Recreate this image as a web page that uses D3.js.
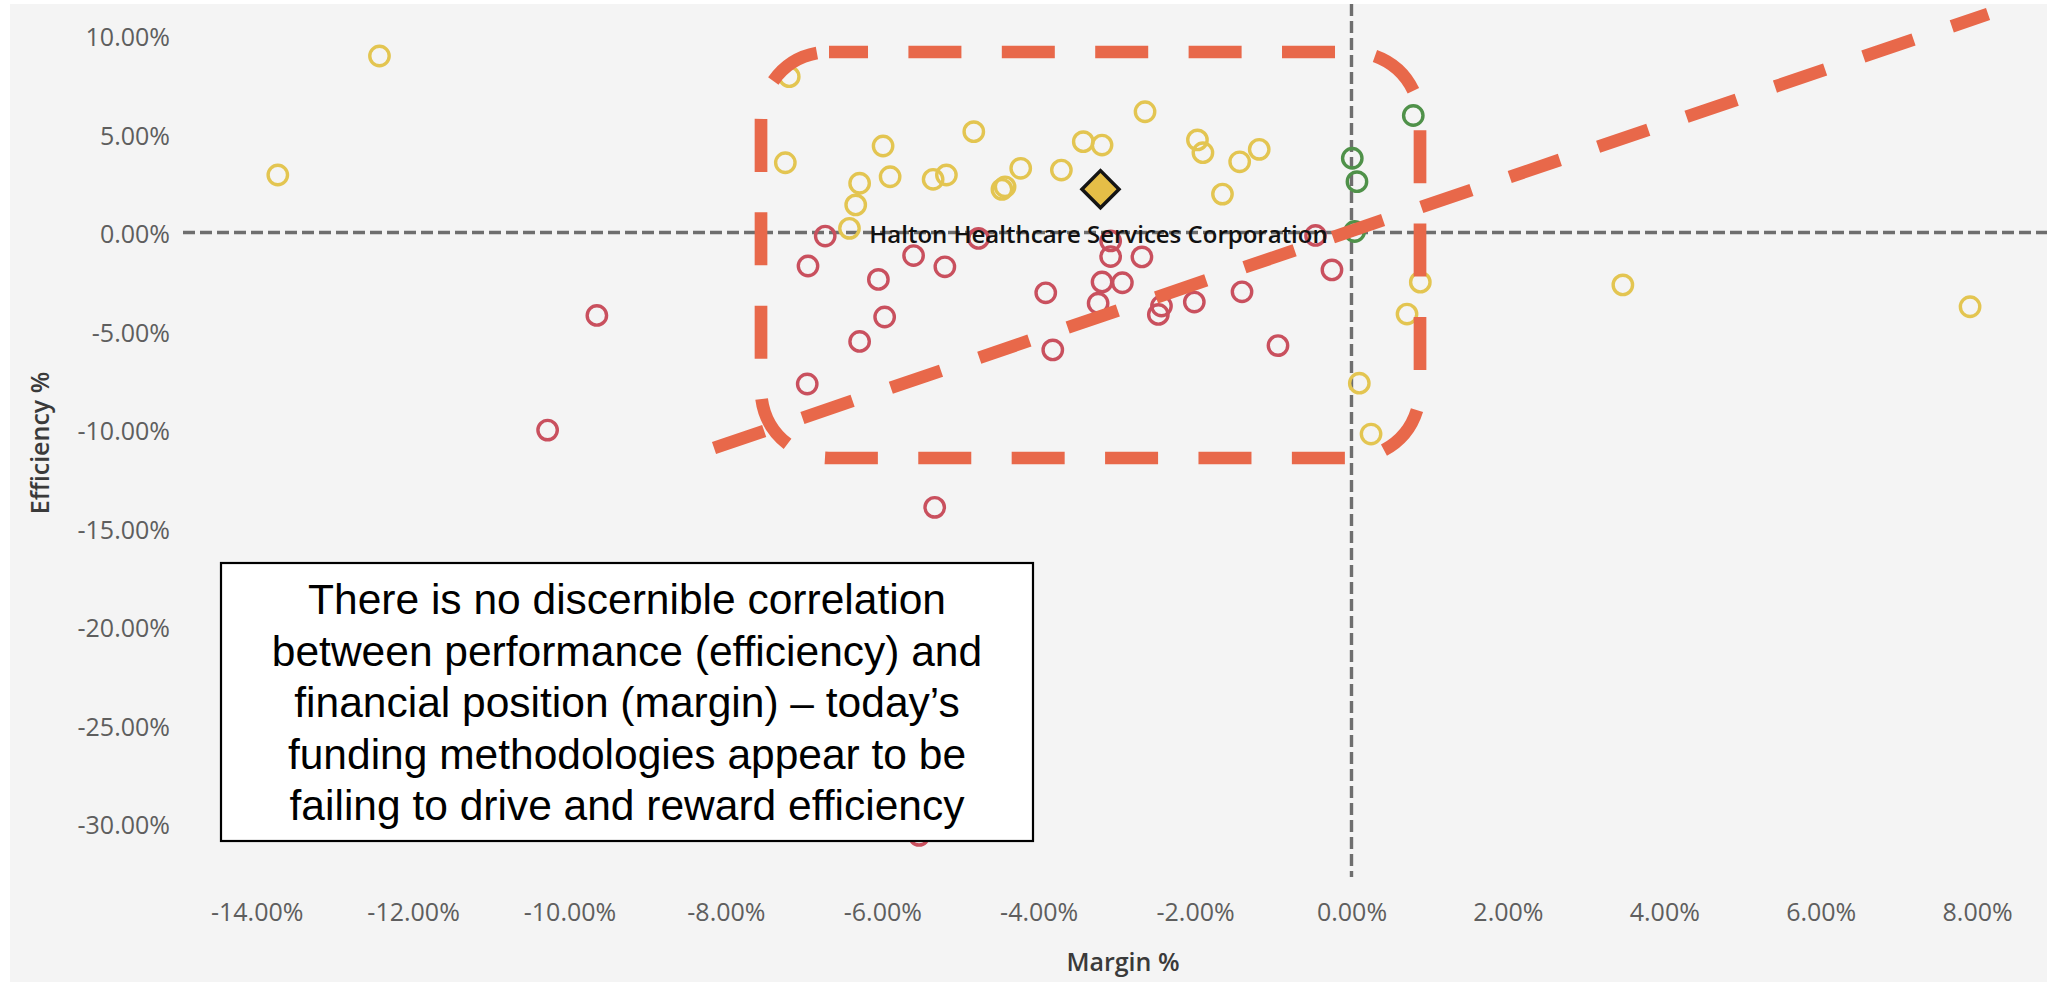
<!DOCTYPE html>
<html>
<head>
<meta charset="utf-8">
<script src="https://cdn.jsdelivr.net/npm/d3@7"></script>
<style>
  html, body { margin: 0; padding: 0; background: #ffffff; }
  svg { display: block; }
</style>
</head>
<body>
<svg id="chart" width="2047" height="982"></svg>
<script>
// ---------------- data ----------------
const xTicks = [-14, -12, -10, -8, -6, -4, -2, 0, 2, 4, 6, 8];
const yTicks = [10, 5, 0, -5, -10, -15, -20, -25, -30];

// amber (yellow) hospitals
const amberMargin = [-12.43, -13.73, -7.19, -7.24, -5.99, -4.83, -3.43, -3.19, -6.29, -5.90,
  -5.35, -5.18, -4.47, -4.43, -4.23, -3.71, -6.34, -6.42, -2.64, -1.97,
  -1.90, -1.43, -1.18, -1.65, 0.88, 0.71, 0.10, 0.25, 3.47, 7.91];
const amberEfficiency = [8.96, 2.92, 7.91, 3.54, 4.39, 5.12, 4.61, 4.44, 2.50, 2.83,
  2.70, 2.92, 2.19, 2.32, 3.26, 3.17, 1.40, 0.21, 6.13, 4.70,
  4.05, 3.59, 4.22, 1.95, -2.52, -4.14, -7.65, -10.23, -2.66, -3.77];

// red hospitals
const redMargin = [-6.73, -6.95, -5.60, -5.20, -6.05, -4.77, -5.97, -6.29, -6.96, -3.91,
  -3.82, -3.08, -3.08, -2.68, -3.19, -2.93, -3.24, -2.43, -2.47, -2.01,
  -1.40, -0.94, -0.46, -0.25, -5.33, -9.65, -10.28, -5.53];
const redEfficiency = [-0.18, -1.70, -1.17, -1.74, -2.38, -0.30, -4.29, -5.53, -7.69, -3.06,
  -5.96, -0.43, -1.22, -1.24, -2.51, -2.55, -3.59, -3.73, -4.16, -3.53,
  -3.01, -5.74, -0.15, -1.90, -13.95, -4.21, -10.03, -30.6];

// green hospitals
const greenMargin = [0.79, 0.01, 0.07, 0.04];
const greenEfficiency = [5.94, 3.77, 2.58, 0.05];

// highlighted hospital
const highlightName = "Halton Healthcare Services Corporation";
const highlightMargin = [-3.21];
const highlightEfficiency = [2.20];

// annotation shapes (data units)
const focusBoxMargin = [-7.551, 0.876];
const focusBoxEfficiency = [9.162, -11.447];
const trendMargin = [-8.152, 8.14];
const trendEfficiency = [-10.94, 11.09];

const noteLines = [
  "There is no discernible correlation",
  "between performance (efficiency) and",
  "financial position (margin) \u2013 today\u2019s",
  "funding methodologies appear to be",
  "failing to drive and reward efficiency"
];

// ---------------- chart ----------------
const W = 2047, H = 982;
const svg = d3.select("#chart");

const x = d3.scaleLinear().domain([-14, 8]).range([256.7, 1977.1]);
const y = d3.scaleLinear().domain([10, -30]).range([35.5, 823.5]);

const fmt = d => d.toFixed(2) + "%";

// panel background
svg.append("rect").attr("x", 0).attr("y", 0).attr("width", W).attr("height", H).attr("fill", "#ffffff");
svg.append("rect").attr("x", 10).attr("y", 4).attr("width", W - 10).attr("height", H - 4).attr("fill", "#f4f4f4");

// reference lines at zero
svg.append("line")
  .attr("x1", 183).attr("x2", W)
  .attr("y1", y(0)).attr("y2", y(0))
  .attr("stroke", "#6e6e6e").attr("stroke-width", 3.4)
  .attr("stroke-dasharray", "12 5");
svg.append("line")
  .attr("x1", x(0)).attr("x2", x(0))
  .attr("y1", 4).attr("y2", 877)
  .attr("stroke", "#6e6e6e").attr("stroke-width", 3.4)
  .attr("stroke-dasharray", "12 5");

// axes
const yAxis = svg.append("g")
  .attr("transform", "translate(179,0)")
  .call(d3.axisLeft(y).tickValues(yTicks).tickFormat(fmt).tickSize(0).tickPadding(9));
const xAxis = svg.append("g")
  .attr("transform", "translate(0,890)")
  .call(d3.axisBottom(x).tickValues(xTicks).tickFormat(fmt).tickSize(0).tickPadding(13));
[yAxis, xAxis].forEach(g => {
  g.select(".domain").remove();
  g.selectAll("text")
    .attr("font-family", "'Open Sans', sans-serif")
    .attr("font-size", 25)
    .attr("fill", "#5e5e5e");
});
yAxis.selectAll("text").attr("dy", "0.4em");

// axis titles
svg.append("text")
  .attr("transform", `translate(49,${443}) rotate(-90)`)
  .attr("text-anchor", "middle")
  .attr("font-family", "'Open Sans', sans-serif")
  .attr("font-size", 25).attr("font-weight", 600)
  .attr("fill", "#3a3a3a")
  .text("Efficiency %");
svg.append("text")
  .attr("x", 1123).attr("y", 971)
  .attr("text-anchor", "middle")
  .attr("font-family", "'Open Sans', sans-serif")
  .attr("font-size", 25).attr("font-weight", 600)
  .attr("fill", "#3a3a3a")
  .text("Margin %");

// points
function drawGroup(ms, es, color) {
  const pts = ms.map((m, i) => ({ m, e: es[i] }));
  svg.append("g").selectAll("circle").data(pts).join("circle")
    .attr("cx", d => x(d.m)).attr("cy", d => y(d.e))
    .attr("r", 9.7)
    .attr("fill", "none")
    .attr("stroke", color)
    .attr("stroke-width", 3.4);
}
drawGroup(amberMargin, amberEfficiency, "#e3c551");
drawGroup(redMargin, redEfficiency, "#c9505e");
drawGroup(greenMargin, greenEfficiency, "#4f9149");

// highlighted hospital
const hx = x(highlightMargin[0]), hy = y(highlightEfficiency[0]);
svg.append("path")
  .attr("d", d3.symbol(d3.symbolSquare, 686)())
  .attr("transform", `translate(${hx},${hy}) rotate(45)`)
  .attr("fill", "#e5be47")
  .attr("stroke", "#151515")
  .attr("stroke-width", 3.5)
  .attr("stroke-linejoin", "miter");
svg.append("text")
  .attr("x", hx - 2).attr("y", hy + 54)
  .attr("text-anchor", "middle")
  .attr("font-family", "'Open Sans', sans-serif")
  .attr("font-size", 24).attr("font-weight", 600)
  .attr("fill", "#111111")
  .text(highlightName);

// orange annotations
const orange = "#e8684a";
svg.append("rect")
  .attr("x", x(focusBoxMargin[0])).attr("y", y(focusBoxEfficiency[0]))
  .attr("width", x(focusBoxMargin[1]) - x(focusBoxMargin[0]))
  .attr("height", y(focusBoxEfficiency[1]) - y(focusBoxEfficiency[0]))
  .attr("rx", 68).attr("ry", 68)
  .attr("fill", "none")
  .attr("stroke", orange).attr("stroke-width", 12.7)
  .attr("stroke-dasharray", "53 40.4")
  .attr("stroke-dashoffset", 14);
svg.append("line")
  .attr("x1", x(trendMargin[0])).attr("y1", y(trendEfficiency[0]))
  .attr("x2", x(trendMargin[1])).attr("y2", y(trendEfficiency[1]))
  .attr("stroke", orange).attr("stroke-width", 12.7)
  .attr("stroke-dasharray", "53 40.4");

// note box
const box = { x0: 221, y0: 563, x1: 1033, y1: 841 };
svg.append("rect")
  .attr("x", box.x0).attr("y", box.y0)
  .attr("width", box.x1 - box.x0).attr("height", box.y1 - box.y0)
  .attr("fill", "#ffffff").attr("stroke", "#000000").attr("stroke-width", 2.2);
svg.append("g").selectAll("text").data(noteLines).join("text")
  .attr("x", (box.x0 + box.x1) / 2)
  .attr("y", (d, i) => 614 + i * 51.5)
  .attr("text-anchor", "middle")
  .attr("font-family", "'Liberation Sans', Arial, sans-serif")
  .attr("font-size", 42.5)
  .attr("fill", "#000000")
  .text(d => d);
</script>
</body>
</html>
